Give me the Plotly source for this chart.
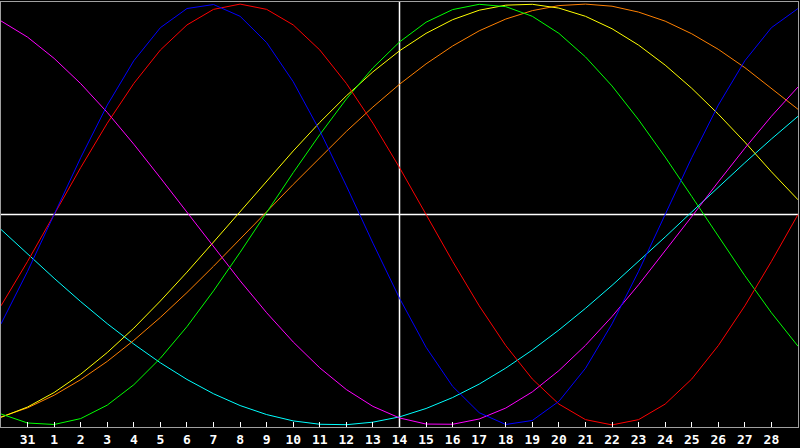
import plotly.graph_objects as go

days = list(range(31))  # day index 0..30 (0 = the 30th of previous month)
tick_idx = list(range(1, 30))
tick_labels = ["31"] + [str(d) for d in range(1, 29)]
today_idx = 15

physical = [-0.520, -0.270, 0.0, 0.270, 0.520, 0.731, 0.888, 0.979, 0.998, 0.942, 0.817, 0.631, 0.398, 0.136,
            -0.136, -0.398, -0.631, -0.817, -0.942, -0.998, -0.979, -0.888, -0.731, -0.520, -0.270, 0.0,
            0.270, 0.520, 0.731, 0.888, 0.979]
emotional = [-0.434, -0.223, 0.0, 0.223, 0.434, 0.623, 0.782, 0.901, 0.975, 1.0, 0.975, 0.901, 0.782, 0.623,
             0.434, 0.223, 0.0, -0.223, -0.434, -0.623, -0.782, -0.901, -0.975, -1.0, -0.975, -0.901,
             -0.782, -0.623, -0.434, -0.223, 0.0]
intellectual = [-0.948, -0.991, -0.998, -0.970, -0.906, -0.809, -0.683, -0.533, -0.363, -0.180, 0.010, 0.199,
                0.380, 0.549, 0.697, 0.820, 0.914, 0.974, 0.999, 0.988, 0.942, 0.861, 0.749, 0.611, 0.450,
                0.273, 0.086, -0.105, -0.291, -0.467, -0.626]
intuitive = [0.920, 0.843, 0.742, 0.622, 0.485, 0.334, 0.174, 0.010, -0.155, -0.315, -0.467, -0.606, -0.729,
             -0.832, -0.912, -0.967, -0.996, -0.997, -0.972, -0.920, -0.843, -0.742, -0.622, -0.485, -0.334,
             -0.174, -0.010, 0.155, 0.315, 0.467, 0.606]
aesthetic = [-0.964, -0.915, -0.846, -0.759, -0.656, -0.540, -0.411, -0.274, -0.131, 0.015, 0.160, 0.302,
             0.438, 0.564, 0.678, 0.778, 0.861, 0.926, 0.971, 0.995, 0.999, 0.981, 0.942, 0.883, 0.805,
             0.710, 0.600, 0.477, 0.344, 0.203, 0.070]
awareness = [-0.962, -0.919, -0.859, -0.785, -0.698, -0.598, -0.489, -0.371, -0.246, -0.118, 0.013, 0.143,
             0.271, 0.395, 0.511, 0.619, 0.716, 0.801, 0.873, 0.929, 0.969, 0.993, 1.000, 0.990, 0.962,
             0.919, 0.859, 0.785, 0.698, 0.598, 0.500]
spiritual = [-0.071, -0.189, -0.303, -0.414, -0.519, -0.616, -0.705, -0.784, -0.852, -0.908, -0.951, -0.981,
             -0.997, -0.999, -0.987, -0.962, -0.922, -0.870, -0.806, -0.730, -0.644, -0.549, -0.446, -0.337,
             -0.224, -0.107, 0.012, 0.130, 0.246, 0.359, 0.467]

series = [
    ("Spiritual", spiritual, "#00ffff"),
    ("Awareness", awareness, "#ff8000"),
    ("Aesthetic", aesthetic, "#ffff00"),
    ("Intuitive", intuitive, "#ff00ff"),
    ("Intellectual", intellectual, "#00ff00"),
    ("Emotional", emotional, "#ff0000"),
    ("Physical", physical, "#0000ff"),
]

fig = go.Figure()
for name, vals, col in series:
    fig.add_trace(go.Scatter(x=days, y=vals, mode="lines", name=name,
                             line=dict(color=col, width=1), hoverinfo="skip"))

fig.add_shape(type="line", xref="paper", yref="y", x0=0, x1=1, y0=0, y1=0,
              line=dict(color="#ffffff", width=1.5), layer="below")
fig.add_shape(type="line", xref="x", yref="paper", x0=today_idx, x1=today_idx, y0=0, y1=1,
              line=dict(color="#ffffff", width=1.5), layer="below")

fig.update_layout(
    width=800, height=448,
    paper_bgcolor="#000000", plot_bgcolor="#000000",
    margin=dict(l=1, r=1, t=1, b=20),
    showlegend=False,
    xaxis=dict(range=[0, 30], tickmode="array", tickvals=tick_idx, ticktext=tick_labels,
               ticks="inside", ticklen=5, tickcolor="#ffffff", tickwidth=1,
               showgrid=False, zeroline=False, showline=True, linecolor="#a0a0a0",
               linewidth=1, mirror=True,
               tickfont=dict(family="DejaVu Sans Mono", size=13, color="#ffffff", weight="bold")),
    yaxis=dict(range=[-1.01, 1.01], showticklabels=False, ticks="", showgrid=False,
               zeroline=False, showline=True, linecolor="#a0a0a0", linewidth=1, mirror=True),
)

fig.write_html("out.html", config={"displayModeBar": False},
               post_script="document.body.style.margin='0';document.body.style.background='#000';")
